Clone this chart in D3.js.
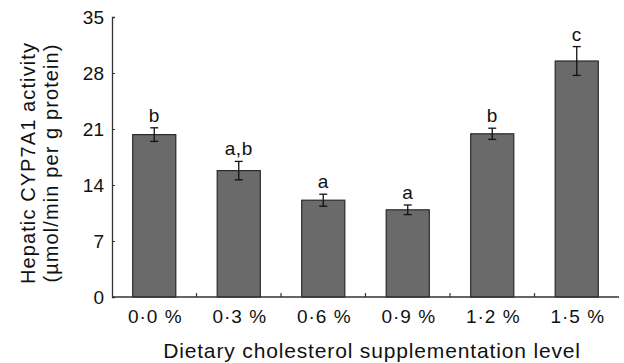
<!DOCTYPE html>
<html>
<head>
<meta charset="utf-8">
<script src="https://cdn.jsdelivr.net/npm/d3@7"></script>
<style>
body { margin: 0; background: #fff; }
text { font-family: "Liberation Sans", Arial, sans-serif; fill: #111; }
</style>
</head>
<body>
<svg id="chart" width="624" height="363"></svg>
<script>
var levels = ["0\u00b70 %", "0\u00b73 %", "0\u00b76 %", "0\u00b79 %", "1\u00b72 %", "1\u00b75 %"];
var activity = [20.3, 15.8, 12.1, 10.9, 20.4, 29.5];
var sem = [0.85, 1.15, 0.75, 0.6, 0.7, 1.8];
var letters = ["b", "a,b", "a", "a", "b", "c"];
var yTicks = [0, 7, 14, 21, 28, 35];

var same = function(d) { return d; };
var svg = d3.select("#chart");
var margin = {left: 112, right: 5, top: 17, bottom: 66};
var width = 624, height = 363;

var x = d3.scaleBand()
    .domain(levels)
    .range([margin.left, width - margin.right])
    .paddingInner(0.49)
    .paddingOuter(0.245);

var y = d3.scaleLinear()
    .domain([0, 35])
    .range([height - margin.bottom, margin.top]);

// bars
svg.selectAll("rect.bar")
    .data(activity)
    .enter()
    .append("rect")
        .attr("class", "bar")
        .attr("x", function(d, i) { return x(levels[i]); })
        .attr("y", function(d) { return y(d); })
        .attr("width", x.bandwidth())
        .attr("height", function(d) { return y(0) - y(d); })
        .attr("fill", "#6a6a6a")
        .attr("stroke", "#2a2a2a")
        .attr("stroke-width", 1.2);

// error bars
var cx = function(i) { return x(levels[i]) + x.bandwidth() / 2; };
var err = svg.append("g").attr("stroke", "#111").attr("stroke-width", 1.3);
activity.forEach(function(d, i) {
    err.append("line")
        .attr("x1", cx(i)).attr("x2", cx(i))
        .attr("y1", y(d + sem[i])).attr("y2", y(d - sem[i]));
    [d + sem[i], d - sem[i]].forEach(function(v) {
        err.append("line")
            .attr("x1", cx(i) - 4).attr("x2", cx(i) + 4)
            .attr("y1", y(v)).attr("y2", y(v));
    });
});

// significance letters
svg.selectAll("text.sig")
    .data(letters)
    .enter()
    .append("text")
        .attr("class", "sig")
        .attr("x", function(d, i) { return cx(i); })
        .attr("y", function(d, i) { return y(activity[i] + sem[i]) - 6; })
        .attr("text-anchor", "middle")
        .style("font-size", "19px")
        .style("letter-spacing", "0.5px")
        .text(same);

// y axis
var yAxis = d3.axisLeft(y).tickValues(yTicks).tickSize(-3).tickPadding(8);
var gy = svg.append("g")
    .attr("transform", "translate(" + margin.left + ",0)")
    .call(yAxis);
gy.select(".domain").attr("stroke", "#333").attr("stroke-width", 1.3);
gy.selectAll(".tick line").attr("stroke", "#333");
gy.selectAll(".tick text")
    .style("font-size", "19px")
    .style("font-family", "'Liberation Sans', Arial, sans-serif")
    .attr("fill", "#111");

// x axis: line plus small inward ticks between categories
var gx = svg.append("g");
gx.append("line")
    .attr("x1", margin.left).attr("x2", width - margin.right)
    .attr("y1", y(0)).attr("y2", y(0))
    .attr("stroke", "#333").attr("stroke-width", 1.3);
var step = x.step();
levels.slice(1).forEach(function(l) {
    var bx = x(l) - (step - x.bandwidth()) / 2;
    gx.append("line")
        .attr("x1", bx).attr("x2", bx)
        .attr("y1", y(0)).attr("y2", y(0) - 4)
        .attr("stroke", "#333").attr("stroke-width", 1.2);
});
gx.selectAll("text")
    .data(levels)
    .enter()
    .append("text")
        .attr("x", function(d, i) { return cx(i) + 1; })
        .attr("y", y(0) + 26)
        .attr("text-anchor", "middle")
        .style("font-size", "19px")
        .style("letter-spacing", "1px")
        .text(same);

// axis titles
svg.append("text")
    .attr("x", 372)
    .attr("y", 358)
    .attr("text-anchor", "middle")
    .style("font-size", "21px")
    .style("letter-spacing", "0.85px")
    .text("Dietary cholesterol supplementation level");

var yt = svg.append("text")
    .attr("transform", "translate(35,163) rotate(-90)")
    .attr("text-anchor", "middle")
    .style("font-size", "20px")
    .style("letter-spacing", "1.1px");
yt.append("tspan").attr("x", 0).attr("dy", 0).text("Hepatic CYP7A1 activity");
yt.append("tspan").attr("x", 0).attr("dy", 23).text("(\u00b5mol/min per g protein)");
</script>
</body>
</html>
